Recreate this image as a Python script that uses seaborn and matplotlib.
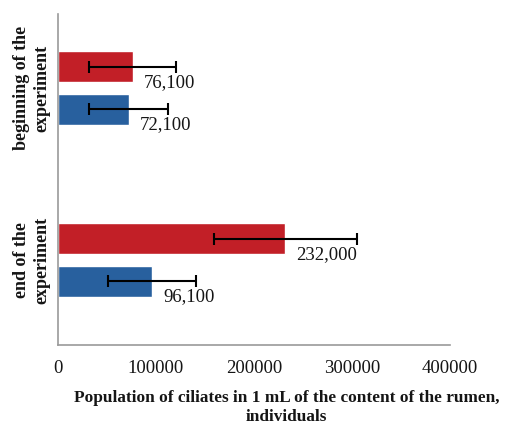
import matplotlib
matplotlib.use("Agg")
import matplotlib.pyplot as plt
import seaborn as sns
import pandas as pd
import numpy as np

# Ciliate counts per 1 mL of rumen content
periods = ["beginning of the\nexperiment", "end of the\nexperiment"]
groups = ["experimental", "control"]
experimental_vals = [76100, 232000]
control_vals = [72100, 96100]
experimental_err = [44000, 73000]
control_err = [40000, 45000]
x_ticks = [0, 100000, 200000, 300000, 400000]

colors = {"experimental": "#C21F27", "control": "#28609E"}

df = pd.DataFrame({
    "period": periods * 2,
    "group": [groups[0]] * 2 + [groups[1]] * 2,
    "value": experimental_vals + control_vals,
    "err": experimental_err + control_err,
})

sns.set_style("white")
plt.rcParams["font.family"] = ["Liberation Serif", "DejaVu Serif"]

fig = plt.figure(figsize=(5.07, 4.26), dpi=100)
ax = fig.add_axes([58 / 507, 1 - 345 / 426, (450 - 58) / 507, (345 - 14) / 426])

sns.barplot(data=df, y="period", x="value", hue="group", order=periods,
            hue_order=groups, palette=colors, orient="h", width=0.494,
            gap=0.26, errorbar=None, legend=False, ax=ax, saturation=1)

# Error bars and value labels at the end of each bar
for (grp, vals, errs) in [("experimental", experimental_vals, experimental_err),
                          ("control", control_vals, control_err)]:
    cont = ax.containers[groups.index(grp)]
    for bar, v, e in zip(cont, vals, errs):
        yc = bar.get_y() + bar.get_height() / 2
        ax.errorbar(v, yc, xerr=e, fmt="none", ecolor="black",
                    elinewidth=1.5, capsize=4.5, capthick=1.5, zorder=3)
        ax.annotate(f"{v:,}", xy=(v, bar.get_y() + bar.get_height()),
                    xytext=(8, 0), textcoords="offset points",
                    ha="left", va="center", fontsize=13.5, color="#151515")

ax.set_xlim(0, 400000)
ax.set_ylim(1.494, -0.43)
ax.set_xticks(x_ticks)
ax.set_xticklabels([str(t) for t in x_ticks], fontsize=13.5, color="#151515")
ax.tick_params(axis="x", length=0, pad=11)
ax.set_yticks(range(len(periods)))
ax.set_yticklabels(periods, rotation=90, va="center", ha="center",
                   multialignment="center", fontsize=13, fontweight="bold",
                   color="#151515")
ax.tick_params(axis="y", length=0, pad=19)

ax.set_xlabel("Population of ciliates in 1 mL of the content of the rumen,\nindividuals",
              fontsize=12.4, fontweight="bold", color="#151515",
              linespacing=1.25)
ax.xaxis.set_label_coords(0.583, -0.19, transform=ax.transAxes)
ax.xaxis.label.set_va("center")
ax.set_ylabel("")

for side in ["top", "right"]:
    ax.spines[side].set_visible(False)
for side in ["left", "bottom"]:
    ax.spines[side].set_color("#9a9a9a")
    ax.spines[side].set_linewidth(1.2)

fig.savefig("out.png", dpi=100)
